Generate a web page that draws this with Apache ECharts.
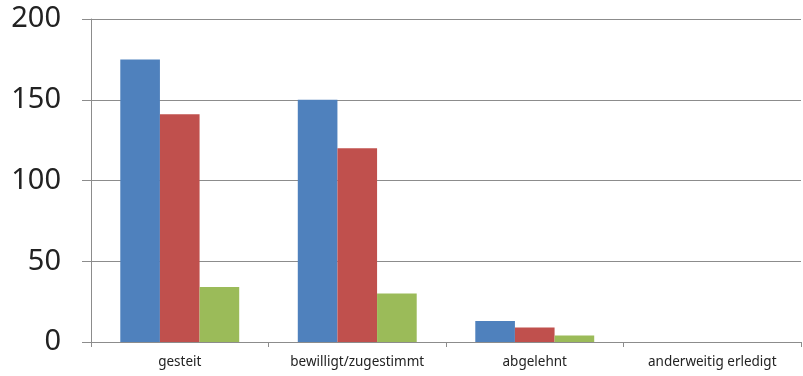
<!DOCTYPE html>
<html>
<head>
<meta charset="utf-8">
<script src="https://cdn.jsdelivr.net/npm/echarts@6/dist/echarts.min.js"></script>
<style>
  html, body { margin: 0; padding: 0; background: #fff; }
  #chart { width: 803px; height: 376px; }
</style>
</head>
<body>
<div id="chart"></div>
<script>
// Categories along the x axis
const categories = ['gesteit', 'bewilligt/zugestimmt', 'abgelehnt', 'anderweitig erledigt'];
// Three series of counts per category
const seriesBlue = [175, 150, 13, 0];
const seriesRed = [141, 120, 9, 0];
const seriesGreen = [34, 30, 4, 0];
// Value axis range
const yMin = 0;
const yMax = 200;
const yStep = 50;

const chart = echarts.init(document.getElementById('chart'), null, { renderer: 'canvas' });

const barSeries = [
  { data: seriesBlue, color: '#4F81BD' },
  { data: seriesRed, color: '#C0504D' },
  { data: seriesGreen, color: '#9BBB59' }
].map(s => ({
  type: 'bar',
  data: s.data,
  itemStyle: { color: s.color },
  barGap: '0%',
  barCategoryGap: '33%',
  animation: false
}));

chart.setOption({
  animation: false,
  grid: { left: 91, right: 2, top: 19, bottom: 34, containLabel: false },
  xAxis: {
    type: 'category',
    data: categories,
    axisLine: { lineStyle: { color: '#8c8c8c', width: 1 } },
    axisTick: { show: true, length: 5, lineStyle: { color: '#8c8c8c' } },
    axisLabel: {
      color: '#222',
      fontFamily: 'Noto Sans, DejaVu Sans, sans-serif',
      fontSize: 13.5,
      margin: 13
    }
  },
  yAxis: {
    type: 'value',
    min: yMin,
    max: yMax,
    interval: yStep,
    axisLine: { show: true, lineStyle: { color: '#8c8c8c', width: 1 } },
    axisTick: { show: true, length: 9, lineStyle: { color: '#8c8c8c' } },
    splitLine: { show: true, lineStyle: { color: '#8c8c8c', width: 1 } },
    axisLabel: {
      color: '#222',
      fontFamily: 'Noto Sans, DejaVu Sans, sans-serif',
      fontSize: 29,
      margin: 30
    }
  },
  series: barSeries
});
</script>
</body>
</html>
